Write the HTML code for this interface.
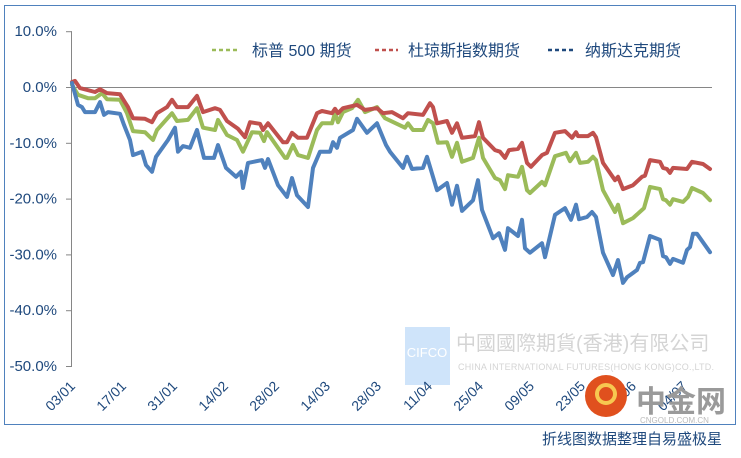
<!DOCTYPE html>
<html><head><meta charset="utf-8"><style>
body{margin:0;background:#fff;width:741px;height:453px;overflow:hidden;font-family:"Liberation Sans","Noto Sans CJK SC",sans-serif}
svg text{font-family:"Liberation Sans","Noto Sans CJK SC",sans-serif}
</style></head><body>
<svg id="chart" width="741" height="453" xmlns="http://www.w3.org/2000/svg">
<rect x="4.5" y="5.5" width="731" height="419" fill="#fff" stroke="#4F81BD" stroke-width="1"/>
<g>
<rect x="405" y="327" width="45" height="58" fill="#CFE4FA"/>
<text x="427" y="357" font-size="13" fill="#fff" text-anchor="middle" font-family="Liberation Serif">CIFCO</text>
<text x="456" y="350" font-size="20" fill="#d4d4d4">中國國際期貨(香港)有限公司</text>
<text x="458" y="370" font-size="9" fill="#d4d4d4" textLength="256">CHINA INTERNATIONAL FUTURES(HONG KONG)CO.,LTD.</text>
</g>
<g id="yaxis"></g>
<g id="xaxis"></g>
<g id="series"></g>
<g>
<g><line x1="212" y1="50" x2="240" y2="50" stroke="#9BBB59" stroke-width="2.5" stroke-dasharray="4,3"/><text x="252" y="56" font-size="16" fill="#1F497D">标普 500 期货</text></g>
<g><line x1="375" y1="50" x2="398" y2="50" stroke="#C0504D" stroke-width="2.5" stroke-dasharray="4,3"/><text x="408" y="56" font-size="16" fill="#1F497D">杜琼斯指数期货</text></g>
<g><line x1="548" y1="50" x2="576" y2="50" stroke="#1F497D" stroke-width="2.5" stroke-dasharray="4,3"/><text x="585" y="56" font-size="16" fill="#1F497D">纳斯达克期货</text></g>
</g>
<g>
<circle cx="606" cy="396" r="21" fill="#E0501E"/>
<circle cx="606" cy="394" r="9" fill="none" stroke="#F7C850" stroke-width="4"/>
<text x="636" y="412" font-size="30" fill="#9a9a9a" font-weight="bold">中金网</text>
<text x="640" y="423" font-size="8" fill="#bbb">CNGOLD.COM.CN</text>
</g>
<text x="722" y="444" font-size="15" fill="#1F497D" text-anchor="end">折线图数据整理自易盛极星</text>
</svg>
<script>
const yTicks=[10,0,-10,-20,-30,-40,-50];
const xLabels=["03/01","17/01","31/01","14/02","28/02","14/03","28/03","11/04","25/04","09/05","23/05","06/06","04/07"];
const xLabelDays=[0.8,11,21.2,31.4,41.6,51.8,62,72.2,82.4,92.6,102.8,113,123.2];
const blueDays=[0,1.2,2,2.6,4.6,5.6,6.4,7.2,9.6,10.4,11.6,12.2,14,14.8,16,16.8,19.2,20.6,21.2,22.2,23.6,25,26.4,28.4,29.2,30.8,32.8,33.8,34.2,35.2,38,38.6,39.2,41.2,43,44,45,47.2,48.2,49.6,51.6,52.2,53,53.6,56.2,57,59,61,62.8,63.6,66.2,67,68,70.2,71,73,75,76,77,78,80.2,81.2,82,84.2,85.4,86.6,87.2,89.2,90,90.6,91.6,94,94.6,96.6,98.6,99.8,100.8,101.4,103,104,104.8,106.2,108.2,109.2,110.2,111,113,113.6,114.2,115.6,117.6,118.2,118.8,119.6,120.2,122.2,123,123.6,124.2,125,127.6];
const blueVals=[0.7,-3.2,-3.6,-4.5,-4.5,-2.7,-5.0,-4.5,-4.8,-6.8,-9.5,-12.2,-11.6,-14.0,-15.2,-12.5,-9.5,-7.3,-11.6,-10.6,-10.9,-7.7,-12.7,-12.7,-10.4,-14.5,-16.1,-15.2,-18.1,-13.6,-13.1,-14.5,-12.9,-17.6,-19.7,-16.3,-19.4,-21.5,-14.5,-11.6,-11.6,-9.9,-10.9,-9.1,-7.7,-5.7,-8.2,-6.5,-10.4,-11.6,-14.5,-12.5,-14.7,-14.5,-12.5,-18.5,-17.2,-21.1,-17.7,-22.2,-20.3,-16.7,-22.0,-27.1,-26.2,-29.2,-25.3,-26.7,-23.8,-28.9,-29.7,-28.0,-30.5,-22.9,-21.7,-23.8,-21.1,-23.7,-23.3,-22.4,-23.3,-29.7,-33.7,-31.0,-35.1,-34.1,-32.8,-31.5,-31.4,-26.7,-27.4,-30.3,-30.5,-31.7,-30.8,-31.5,-29.2,-28.7,-26.3,-26.3,-29.6];
const redDays=[0,0.6,1.6,4.6,5.6,7,9.6,11.2,12.2,14.6,16,17,19,20,21,23.2,25,26.2,28.6,29.6,31,33.2,34.6,35.6,37.6,38.2,39.2,42.2,43,44,45.2,47,49,50,52,52.6,53.2,54.2,57,58.6,61,62.2,64,66.2,67.2,70.2,71.6,72.2,73,75,76,77,78,80.6,81.4,82.2,84.6,85.6,86.6,87.4,89.2,90,91,91.8,94,95,96.6,98.6,100,100.8,101.2,103.2,104.2,104.8,106.2,108.6,109.2,110.2,112.2,114,114.6,115.6,117.6,118.2,119,119.6,120.2,123,124,126.2,127.6];
const redVals=[0.9,1.1,-0.2,-0.9,-0.4,-1.1,-1.3,-3.6,-5.6,-5.7,-6.3,-4.7,-3.6,-2.3,-3.6,-3.6,-1.6,-4.5,-3.8,-4.1,-6.1,-7.5,-9.0,-6.3,-6.6,-7.7,-6.5,-9.9,-9.9,-8.2,-9.1,-9.1,-4.7,-4.3,-4.7,-3.9,-4.7,-3.8,-3.2,-4.1,-3.8,-4.7,-4.5,-5.6,-4.7,-5.0,-2.9,-3.6,-6.5,-6.1,-8.2,-6.5,-9.1,-8.8,-6.3,-9.1,-11.3,-11.6,-12.7,-11.3,-11.1,-10.0,-13.6,-14.3,-12.2,-11.8,-8.2,-7.9,-9.1,-8.1,-8.8,-8.8,-8.2,-9.0,-13.6,-16.7,-16.1,-18.3,-17.6,-16.1,-15.9,-13.1,-13.4,-14.5,-14.7,-15.4,-14.5,-14.7,-13.4,-13.8,-14.7];
const greenDays=[0,1.2,3.2,4.6,6,7,9.6,11,12.2,14.6,16.2,17,20,21,23.2,25,26.2,28.6,29.2,31,33,34.2,36,37.6,38.4,39,42.6,43,44.2,45.2,47.2,49,50,52,52.6,53.2,54.2,56,57.2,58.6,61,62.6,66.6,67.2,68.2,70.2,71.2,72.2,73.2,75,76,77,78,80.2,81.4,82.2,84.6,85.6,86.6,87.2,89.2,90,91,91.6,94,94.6,96.6,98.8,99.6,100.8,101.6,103.2,104.2,104.8,106.2,108.6,109.2,110.2,112.2,114.4,115.6,117.6,118.2,118.8,119.6,120.2,122.2,123.2,124,126.2,127.6];
const greenVals=[0.4,-1.4,-2.0,-2.0,-1.1,-2.2,-2.3,-4.7,-7.9,-8.1,-9.5,-7.7,-4.7,-6.1,-5.9,-3.8,-7.3,-7.7,-5.9,-8.6,-9.5,-11.6,-8.1,-8.2,-9.7,-8.1,-12.7,-12.7,-10.4,-12.2,-12.7,-7.7,-6.5,-6.5,-4.7,-6.3,-4.5,-3.8,-2.3,-4.5,-3.6,-5.6,-7.3,-6.5,-7.7,-7.7,-5.9,-6.5,-10.0,-9.9,-12.5,-10.0,-13.4,-12.7,-9.1,-12.7,-16.3,-16.7,-18.3,-15.8,-16.1,-14.3,-18.5,-19.0,-17.0,-17.6,-12.4,-11.8,-13.3,-11.8,-13.6,-13.4,-12.5,-13.1,-18.5,-22.4,-21.1,-24.4,-23.5,-21.7,-17.9,-18.3,-20.1,-20.3,-21.1,-20.1,-20.6,-19.7,-18.1,-19.0,-20.3];

const NS="http://www.w3.org/2000/svg";
const X0=72,X1=712,DMAX=128;
const xs=d=>X0+(d/DMAX)*(X1-X0);
const ys=v=>87-v*5.58;
function mk(tag,attrs,parent){const e=document.createElementNS(NS,tag);for(const k in attrs)e.setAttribute(k,attrs[k]);parent.appendChild(e);return e;}
const ya=document.getElementById('yaxis');
const yl=mk('line',{x1:71.5,y1:ys(10),x2:71.5,y2:ys(-50),stroke:'#868686','stroke-width':1},ya);


yTicks.forEach(t=>{
  const tk=mk('line',{x1:66,y1:ys(t)+0.5,x2:72,y2:ys(t)+0.5,stroke:'#868686','stroke-width':1},ya);
  
  
  const tx=mk('text',{x:57,y:ys(t)+5,'font-size':15,fill:'#1F497D','text-anchor':'end'},ya);
  tx.textContent=t.toFixed(1)+'%';
  
  
});
const zl=mk('line',{x1:72,y1:87.5,x2:712,y2:87.5,stroke:'#868686','stroke-width':1},ya);


const xa=document.getElementById('xaxis');
xLabels.forEach((l,i)=>{
  const x=xs(xLabelDays[i]),y=387;
  const tx=mk('text',{x:x,y:y,'font-size':14,fill:'#1F497D','text-anchor':'end',transform:`rotate(-45 ${x} ${y})`},xa);
  tx.textContent=l;
  
  
});
const sg=document.getElementById('series');
[[greenDays,greenVals,'#9BBB59','sp500-line'],[redDays,redVals,'#C0504D','dow-line'],[blueDays,blueVals,'#4F81BD','nasdaq-line']].forEach(s=>{
  const pts=s[0].map((d,i)=>xs(d).toFixed(1)+','+ys(s[1][i]).toFixed(1)).join(' ');
  const p=mk('polyline',{points:pts,fill:'none',stroke:s[2],'stroke-width':4,'stroke-linejoin':'round','stroke-linecap':'round'},sg);
  
  
});
</script>
</body></html>
